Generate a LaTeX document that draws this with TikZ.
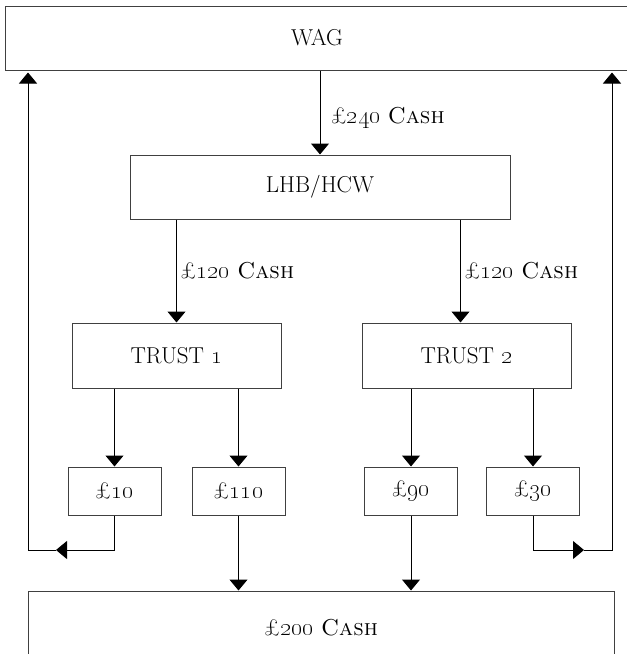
\documentclass[tikz,border=0pt]{standalone}
\usepackage{tikz}
\usetikzlibrary{arrows.meta}
\newcommand{\amt}[1]{£\oldstylenums{#1}}
\newcommand{\cash}[1]{\amt{#1}~\textsc{Cash}}
\tikzset{
  flow/.style={-{Triangle[width=18pt,length=11pt]},line width=1pt},
  box/.style={draw=black!75,line width=1pt,inner sep=0pt},
}

\begin{document}
\begin{tikzpicture}[x=1pt,y=-1pt,font=\fontsize{23}{27}\selectfont]
  \useasboundingbox (0,0) rectangle (627,654);
  \node[box,minimum width=624pt,minimum height=64pt] (WAG) at (317,38) {WAG};
  \node[box,minimum width=380pt,minimum height=64pt] (LHB) at (320,187) {LHB/HCW};
  \node[box,minimum width=209pt,minimum height=65pt] (T1) at (176.5,355.5) {TRUST \oldstylenums{1}};
  \node[box,minimum width=209pt,minimum height=65pt] (T2) at (466.5,355.5) {TRUST \oldstylenums{2}};
  \node[box,minimum width=93pt,minimum height=48pt] (b10) at (114.5,491) {\amt{10}};
  \node[box,minimum width=93pt,minimum height=48pt] (b110) at (238.5,491) {\amt{110}};
  \node[box,minimum width=93pt,minimum height=48pt] (b90) at (411,491) {\amt{90}};
  \node[box,minimum width=93pt,minimum height=48pt] (b30) at (533,491) {\amt{30}};
  \node[box,minimum width=586pt,minimum height=74pt] (total) at (321,628) {\cash{200}};
  \coordinate (in2) at ([xshift=-6pt]T2.north);
  \coordinate (tipL) at (56,550);
  \coordinate (cornerL) at (28,550);
  \coordinate (tipR) at (584,550);
  \coordinate (cornerR) at (612,550);
  \draw[flow] (LHB.north |- WAG.south) to node[pos=.56,right,xshift=7pt] {\cash{240}} (LHB.north);
  \draw[flow] (T1.north |- LHB.south) to node[right] {\cash{120}} (T1.north);
  \draw[flow] (in2 |- LHB.south) to node[right] {\cash{120}} (in2);
  \draw[flow] (b10.north |- T1.south) -- (b10.north);
  \draw[flow] (b110.north |- T1.south) -- (b110.north);
  \draw[flow] (b90.north |- T2.south) -- (b90.north);
  \draw[flow] (b30.north |- T2.south) -- (b30.north);
  \draw[flow] (b110.south) -- (b110.south |- total.north);
  \draw[flow] (b90.south) -- (b90.south |- total.north);
  \draw[flow] (b10.south) |- (tipL);
  \draw[flow,shorten >=2pt] (tipL) -- (cornerL) -- (cornerL |- WAG.south);
  \draw[flow] (b30.south) |- (tipR);
  \draw[flow,shorten >=2pt] (tipR) -- (cornerR) -- (cornerR |- WAG.south);
\end{tikzpicture}
\end{document}
